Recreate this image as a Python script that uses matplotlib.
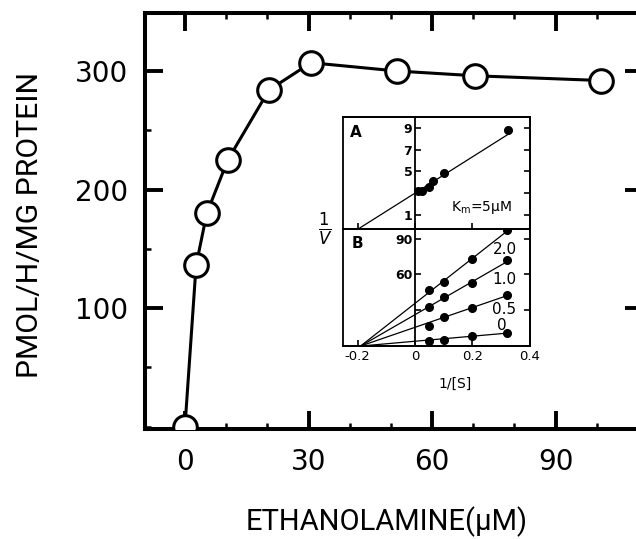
import numpy as np
import matplotlib
matplotlib.use("Agg")
import matplotlib.pyplot as plt
from matplotlib.ticker import MultipleLocator

plt.rcParams['font.family'] = ['DejaVu Sans']
plt.rcParams['mathtext.fontset'] = 'dejavusans'

# main curve: activity vs ethanolamine concentration
ethanolamine = [0, 2.7, 5.3, 10.4, 20.4, 30.6, 51.5, 70.4, 101]
activity = [0, 136, 180, 225, 284, 307, 300, 296, 292]

# inset A: double reciprocal plot
inv_s_a = [0.01, 0.024, 0.048, 0.062, 0.10, 0.324]
inv_v_a = [3.2, 3.2, 3.6, 4.1, 4.85, 8.8]
fit_a_x = [-0.2, 0.33]
fit_a_y = [-0.3, 8.5]

# inset B: reciprocal plots at several inhibitor levels
inv_s_b = [0.048, 0.10, 0.197, 0.321]
inv_v_b = {
    '2.0': [46.7, 54, 73, 97.5],
    '1.0': [32.5, 41, 52.5, 71.7],
    '0.5': [16.7, 24, 31.7, 42.5],
    '0': [4.2, 5, 8.3, 10.8],
}
fit_b_x = [-0.19, 0.33]
fit_b_end = {'2.0': 98, '1.0': 72, '0.5': 43, '0': 11}
label_b_pos = {'2.0': (0.315, 81), '1.0': (0.31, 56), '0.5': (0.31, 31), '0': (0.303, 17)}

fig = plt.figure(figsize=(6.36, 5.39), dpi=100)

# ---- main axes ----
ax = fig.add_axes([0.228, 0.204, 0.783, 0.772])
ax.plot(ethanolamine, activity, color='black', lw=2.2, zorder=2)
ax.plot(ethanolamine, activity, 'o', ms=17, mfc='white', mec='black', mew=2.2, zorder=3)
ax.set_xlim(-9.7, 111.2)
ax.set_ylim(-2, 349)
ax.xaxis.set_major_locator(MultipleLocator(30))
ax.xaxis.set_minor_locator(MultipleLocator(10))
ax.set_yticks([100, 200, 300])
ax.yaxis.set_minor_locator(MultipleLocator(50))
ax.tick_params(which='both', direction='in', top=True, right=True)
ax.tick_params(which='major', length=13, width=2.8, labelsize=20)
ax.tick_params(which='minor', length=4, width=1.8)
ax.tick_params(axis='x', which='major', pad=14)
ax.tick_params(axis='y', which='major', pad=12)
for s in ax.spines.values():
    s.set_linewidth(2.9)
ax.set_xlabel('ETHANOLAMINE(\u03bcM)', fontsize=21, family='Roboto')
ax.xaxis.label.set_va('center')
ax.xaxis.set_label_coords(0.486, -0.222)
ax.set_ylabel('PMOL/H/MG PROTEIN', fontsize=21.7, family='Roboto')
ax.yaxis.label.set_va('center')
ax.yaxis.set_label_coords(-0.231, 0.49)

# ---- inset panels ----
axa = fig.add_axes([0.539, 0.575, 0.294, 0.208])
axb = fig.add_axes([0.539, 0.358, 0.294, 0.217], sharex=axa)
for a in (axa, axb):
    a.set_xlim(-0.252, 0.393)
    a.patch.set_edgecolor('black')
    a.patch.set_linewidth(1.3)
    for s in a.spines.values():
        s.set_linewidth(1.3)
    a.spines['left'].set_position(('data', 0))
    a.tick_params(which='both', direction='in', right=True, length=4, width=1.2,
                  labelsize=9)

axa.set_ylim(-0.28, 10.0)
axa.plot(fit_a_x, fit_a_y, color='black', lw=0.9)
axa.plot(inv_s_a, inv_v_a, 'o', ms=5.5, color='black')
axa.set_yticks([1, 3, 5, 7, 9])
axa.set_yticklabels(['1', '', '5', '7', '9'], fontweight='bold', fontsize=9)
axa.set_xticks([-0.2, 0, 0.2])
axa.tick_params(axis='x', labelbottom=False, top=False)
axa.tick_params(axis='y', pad=2)
axa.text(-0.207, 8.6, 'A', fontsize=11, fontweight='bold', ha='center', va='center')
axa.text(0.23, 1.7, 'K$_\\mathrm{m}$=5\u03bcM', fontsize=10, ha='center', va='center')

axb.set_ylim(0, 98)
for key, vals in inv_v_b.items():
    axb.plot(fit_b_x, [0, fit_b_end[key]], color='black', lw=0.9)
    axb.plot(inv_s_b, vals, 'o', ms=5.5, color='black')
    tx, ty = label_b_pos[key]
    axb.text(tx, ty, key, fontsize=11, ha='center', va='center')
axb.set_yticks([30, 60, 90])
axb.set_yticklabels(['', '60', '90'], fontweight='bold', fontsize=9)
axb.set_xticks([-0.2, 0, 0.2, 0.4])
axb.set_xticklabels(['-0.2', '0', '0.2', '0.4'], fontsize=9.5)
axb.tick_params(axis='x', top=False, pad=3)
axb.tick_params(axis='y', pad=2)
axb.text(-0.2, 86, 'B', fontsize=11, fontweight='bold', ha='center', va='center')
axb.set_xlabel('1/[S]', fontsize=10)
axb.xaxis.set_label_coords(0.60, -0.26)

fig.text(0.511, 0.575, r'$\frac{1}{V}$', fontsize=17, ha='center', va='center')

fig.savefig('out.png', dpi=100)
